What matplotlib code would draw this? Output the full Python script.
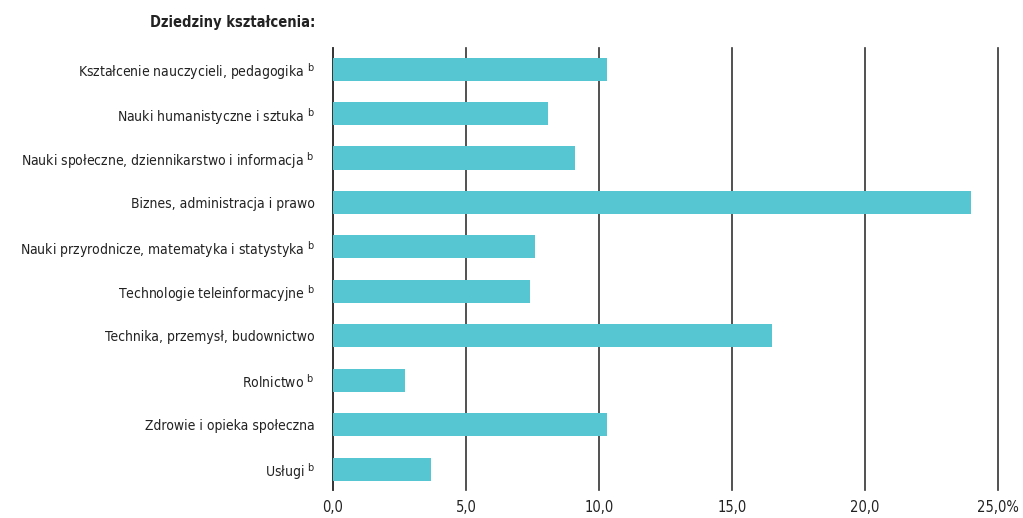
import numpy as np
import matplotlib
matplotlib.use("Agg")
import matplotlib.pyplot as plt
from matplotlib import font_manager as fm
from matplotlib.ticker import FuncFormatter

# data
categories = [
    "Kształcenie nauczycieli, pedagogika",
    "Nauki humanistyczne i sztuka",
    "Nauki społeczne, dziennikarstwo i informacja",
    "Biznes, administracja i prawo",
    "Nauki przyrodnicze, matematyka i statystyka",
    "Technologie teleinformacyjne",
    "Technika, przemysł, budownictwo",
    "Rolnictwo",
    "Zdrowie i opieka społeczna",
    "Usługi",
]
footnote = [True, True, True, False, True, True, False, True, False, True]
values = [10.3, 8.1, 9.1, 24.0, 7.6, 7.4, 16.5, 2.7, 10.3, 3.7]
xticks = [0, 5, 10, 15, 20, 25]

# look for a narrow font (the original uses a condensed face)
def find_narrow(bold):
    for f in fm.fontManager.ttflist:
        st = str(f.stretch)
        narrow = ('Narrow' in f.name or 'Condensed' in f.name or 'condensed' in st)
        isbold = str(f.weight) in ('bold', '700', 'heavy', '800', 'semibold', '600')
        if narrow and isbold == bold and 'Oblique' not in f.fname and 'Italic' not in f.fname:
            return f.fname
    return None

reg = find_narrow(False)
bld = find_narrow(True)
if reg:
    fp = fm.FontProperties(fname=reg, size=10)
else:
    fp = fm.FontProperties(family='Liberation Sans', size=9.5)
if bld:
    fpb = fm.FontProperties(fname=bld, size=10.5)
else:
    fpb = fm.FontProperties(family='Liberation Sans', weight='bold', size=10)
fpt = fp.copy()
fpt.set_size(10.5)

plt.rcParams['mathtext.fontset'] = 'custom'
plt.rcParams['mathtext.rm'] = fp.get_name() if reg else 'Liberation Sans'

labels = [c + (r" $^{\mathrm{b}}$" if f else "") for c, f in zip(categories, footnote)]

fig = plt.figure(figsize=(10.23, 5.18), dpi=100)
ax = fig.add_axes([0.3255, 0.054, 0.65, 0.853])

y = np.arange(len(categories))
ax.barh(y, values, height=0.52, color='#56C6D3', zorder=3)

ax.set_ylim(len(categories) - 0.53, -0.47)
ax.set_xlim(0, 25)
ax.set_yticks(y)
ax.set_yticklabels(labels, fontproperties=fp, color='#222222')
ax.set_xticks(xticks)
ax.xaxis.set_major_formatter(FuncFormatter(
    lambda v, p: ("%.1f" % v).replace('.', ',') + ("%" if v == 25 else "")))
for t in ax.get_xticklabels():
    t.set_fontproperties(fpt)
ax.tick_params(axis='x', colors='#222222', length=0, pad=7)
ax.tick_params(axis='y', length=0, pad=13)

ax.grid(axis='x', color='#333333', linewidth=1.2, zorder=0)
for gl in ax.xaxis.get_gridlines():
    gl.set_clip_on(False)
for s in ['top', 'right', 'bottom']:
    ax.spines[s].set_visible(False)
ax.spines['left'].set_color('#333333')
ax.spines['left'].set_linewidth(1.2)

fig.text(315 / 1023, 1 - 22 / 518, "Dziedziny kształcenia:", ha='right', va='center',
         fontproperties=fpb, color='#222222')

fig.savefig("out.png", dpi=100)
